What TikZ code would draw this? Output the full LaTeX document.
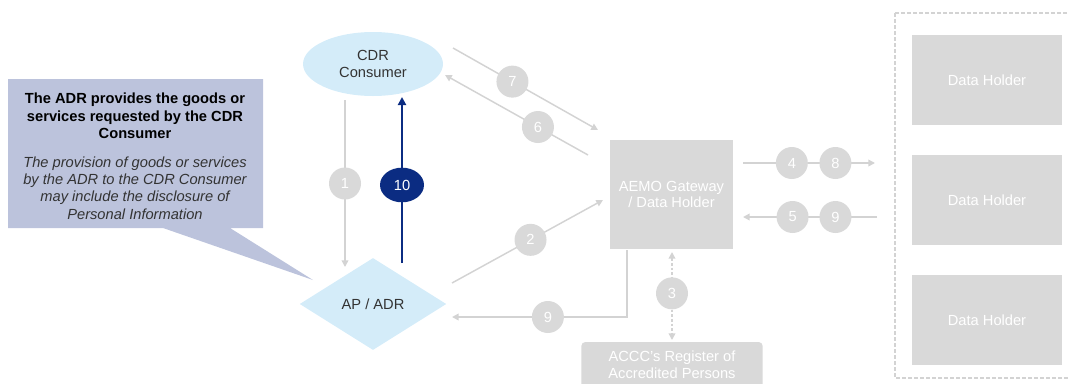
\documentclass[tikz,border=0pt]{standalone}
\usepackage{fontspec}
\setmainfont{Liberation Sans}
\usetikzlibrary{arrows.meta,shapes.geometric}
\definecolor{boxgray}{HTML}{D9D9D9}
\definecolor{linegray}{HTML}{D3D3D3}
\definecolor{paleblue}{HTML}{D4ECF9}
\definecolor{calloutblue}{HTML}{BCC3DC}
\definecolor{navy}{HTML}{0B2C82}
\definecolor{darktext}{HTML}{333333}
\begin{document}
\begin{tikzpicture}[x=0.75pt,y=-0.75pt,>={Triangle[length=5pt,width=5pt]},
  font=\fontsize{11}{12.5}\selectfont,
  num/.style={circle,fill=boxgray,text=white,minimum size=24pt,inner sep=0pt},
  flow/.style={linegray,line width=1.1pt,->},
  gbox/.style={rectangle,fill=boxgray,text=white,align=center,inner sep=0pt}]

\useasboundingbox (0,0) rectangle (1068,383);

% The callout
\fill[calloutblue] (8,79) -- (263,79) -- (263,228) -- (230,228) -- (313,280) -- (163,228) -- (8,228) -- cycle;
\node[align=center,font=\fontsize{11}{13}\selectfont\bfseries] (say) at (135,116)
  {The ADR provides the goods or\\services requested by the CDR\\Consumer};
\node[align=center,font=\fontsize{11}{13}\selectfont\itshape,text=darktext] (note) at (135,188)
  {The provision of goods or services\\by the ADR to the CDR Consumer\\may include the disclosure of\\Personal Information};

% The parties
\node[ellipse,fill=paleblue,minimum width=105pt,minimum height=48pt,align=center,text=darktext] (cdr) at (373,64) {CDR\\Consumer};
\node[diamond,fill=paleblue,aspect=1.6,inner sep=0pt,minimum width=110pt,minimum height=69pt,text=darktext] (adr) at (373,304) {AP / ADR};
\node[gbox,minimum width=92pt,minimum height=82pt] (aemo) at (671.5,194.5) {AEMO Gateway\\/ Data Holder};
\node[gbox,rounded corners=3pt,minimum width=136pt,minimum height=34.5pt] (accc) at (672,365) {ACCC's Register of\\Accredited Persons};

\draw[linegray,line width=0.8pt,dash pattern=on 3pt off 1.5pt] (895,13) rectangle (1075,378);
\foreach \i/\y in {1/80,2/200,3/320}
  \node[gbox,minimum width=112.5pt,minimum height=67.5pt] (dh\i) at (987,\y) {Data Holder};

% The ends of the flows
\coordinate (p1) at (345,100);  \coordinate (q1) at (345,267);
\coordinate (p10) at (402,263); \coordinate (q10) at (402,97);
\coordinate (p7) at (453,48);   \coordinate (q7) at (598,130);
\coordinate (p6) at (588,155);  \coordinate (q6) at (445,75);
\coordinate (p2) at (452,283);  \coordinate (q2) at (603,200);
\coordinate (p9) at (627,250);  \coordinate (q9) at (452,317);
\coordinate (p3) at (672,252);  \coordinate (q3) at (672,340);
\coordinate (p4) at (743,163);  \coordinate (q4) at (875,163);
\coordinate (p5) at (877,217);  \coordinate (q5) at (743,217);

% The flows
\draw[flow] (p1) -- node[num] (n1) {1} (q1);
\draw[flow] (p7) -- node[num,pos=0.41] (n7) {7} (q7);
\draw[flow] (p6) -- node[num,pos=0.35] (n6) {6} (q6);
\draw[flow] (p2) -- node[num,pos=0.52] (n2) {2} (q2);
\draw[flow] (p9) |- node[num,pos=0.726] (n9b) {9} (q9);
\draw[flow,<->,dash pattern=on 2pt off 1.5pt] (p3) -- node[num,pos=0.47] (n3) {3} (q3);
\draw[flow] (p4) -- node[num,pos=0.37] (n4) {4} node[num,pos=0.70] (n8) {8} (q4);
\draw[flow] (p5) -- node[num,pos=0.31] (n9) {9} node[num,pos=0.63] (n5) {5} (q5);

\draw[navy,line width=1.5pt,-{Triangle[length=6pt,width=6pt]}] (p10) -- node[ellipse,fill=navy,text=white,inner sep=0pt,minimum width=33pt,minimum height=26pt,pos=0.47] (n10) {10} (q10);

\end{tikzpicture}
\end{document}
